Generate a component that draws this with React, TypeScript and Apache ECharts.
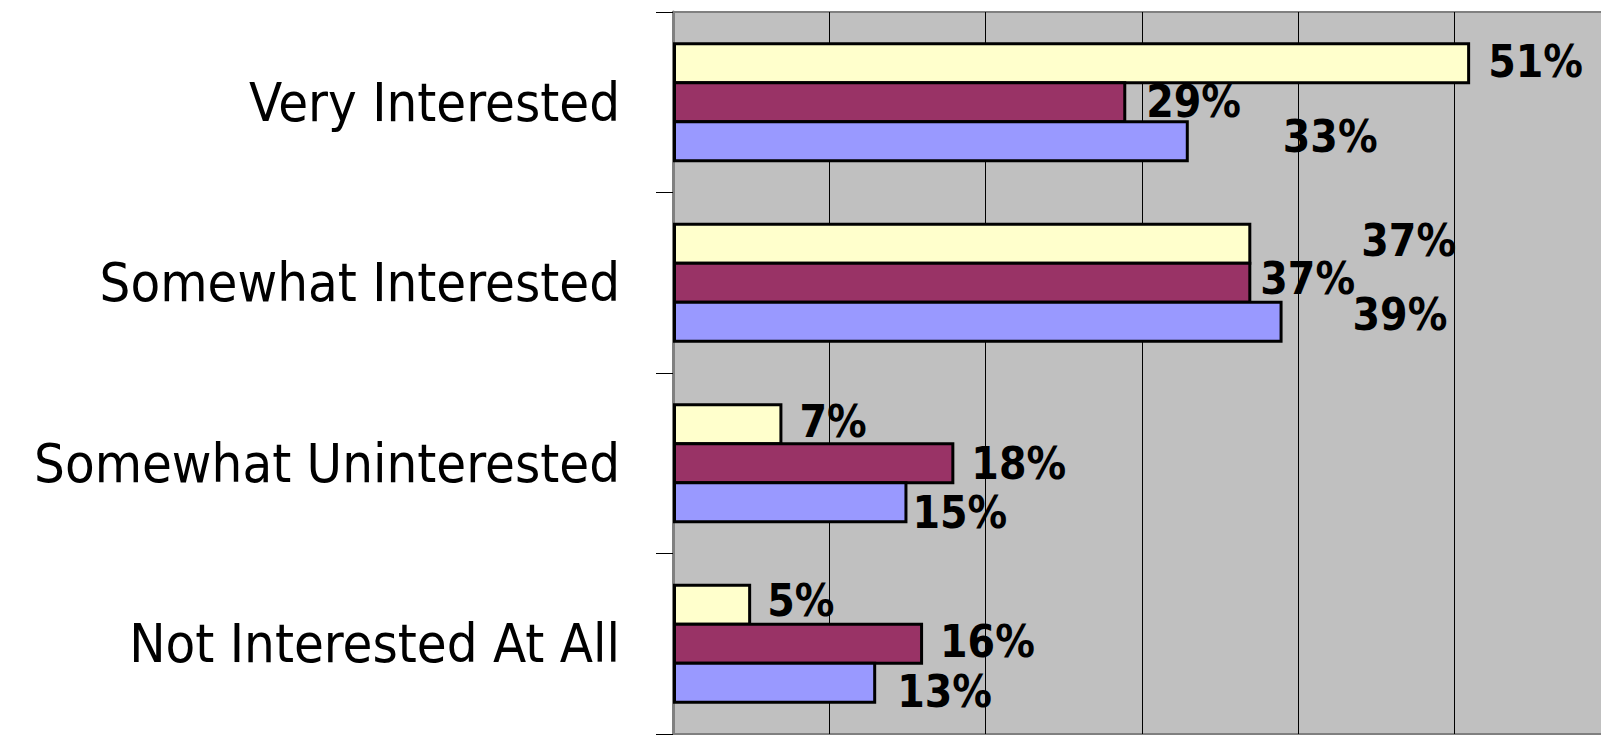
import React, { useEffect, useRef } from "react";
import * as echarts from "echarts";

const categories = [
  "Very Interested",
  "Somewhat Interested",
  "Somewhat Uninterested",
  "Not Interested At All",
];
const yellowValues = [51, 37, 7, 5];
const maroonValues = [29, 37, 18, 16];
const blueValues = [33, 39, 15, 13];
const xTicks = [0, 10, 20, 30, 40, 50, 60];

const FONT = "'DejaVu Sans Condensed', 'Liberation Sans Narrow', sans-serif";

// label nudges (style only) per series, per category
const yellowOffsets = [[18, -2], [110, -3], [17, -3], [16, -4]];
const maroonOffsets = [[20, -1], [9, -4], [17, 0], [17, -2]];
const blueOffsets = [[94, -5], [70, -7], [5, 10], [21, 9]];

function makeSeries(name: string, values: number[], color: string, offsets: number[][]) {
  return {
    name,
    type: "bar",
    barWidth: 42,
    barGap: "-7%",
    itemStyle: { color, borderColor: "#000", borderWidth: 3 },
    label: {
      show: true,
      position: "right",
      distance: 0,
      formatter: "{c}%",
      fontFamily: FONT,
      fontWeight: "bold",
      fontSize: 44,
      color: "#000",
    },
    data: values.map((v, i) => ({
      value: v,
      label: { offset: offsets[i] },
    })),
  };
}

export default function App() {
  const ref = useRef<HTMLDivElement>(null);
  useEffect(() => {
    if (!ref.current) return;
    const chart = echarts.init(ref.current, null, { renderer: "svg" });
    chart.setOption({
      animation: false,
      backgroundColor: "#fff",
      grid: {
        show: true,
        left: 673,
        top: 12,
        width: (xTicks[xTicks.length - 1] - xTicks[0]) * 15.63,
        height: 722,
        backgroundColor: "#C0C0C0",
        borderColor: "#808080",
        borderWidth: 2,
        containLabel: false,
        outerBoundsMode: "none",
      },
      xAxis: {
        type: "value",
        min: xTicks[0],
        max: xTicks[xTicks.length - 1],
        interval: 10,
        axisLabel: { show: false },
        axisLine: { show: false },
        axisTick: { show: false },
        splitLine: { show: true, lineStyle: { color: "#000", width: 1 } },
      },
      yAxis: {
        type: "category",
        inverse: true,
        data: categories,
        axisLine: { show: true, lineStyle: { color: "#808080", width: 3 } },
        axisTick: { show: true, length: 17, lineStyle: { color: "#000", width: 1 } },
        axisLabel: {
          margin: 53,
          fontFamily: FONT,
          fontSize: 54,
          color: "#000",
          padding: [0, 0, 18, 0],
        },
      },
      series: [
        makeSeries("Yellow", yellowValues, "#FFFFCC", yellowOffsets),
        makeSeries("Maroon", maroonValues, "#993366", maroonOffsets),
        makeSeries("Blue", blueValues, "#9999FF", blueOffsets),
      ],
    });
    return () => chart.dispose();
  }, []);
  return (
    <div
      ref={ref}
      style={{ position: "absolute", left: 0, top: 0, width: 1601, height: 735 }}
    />
  );
}
